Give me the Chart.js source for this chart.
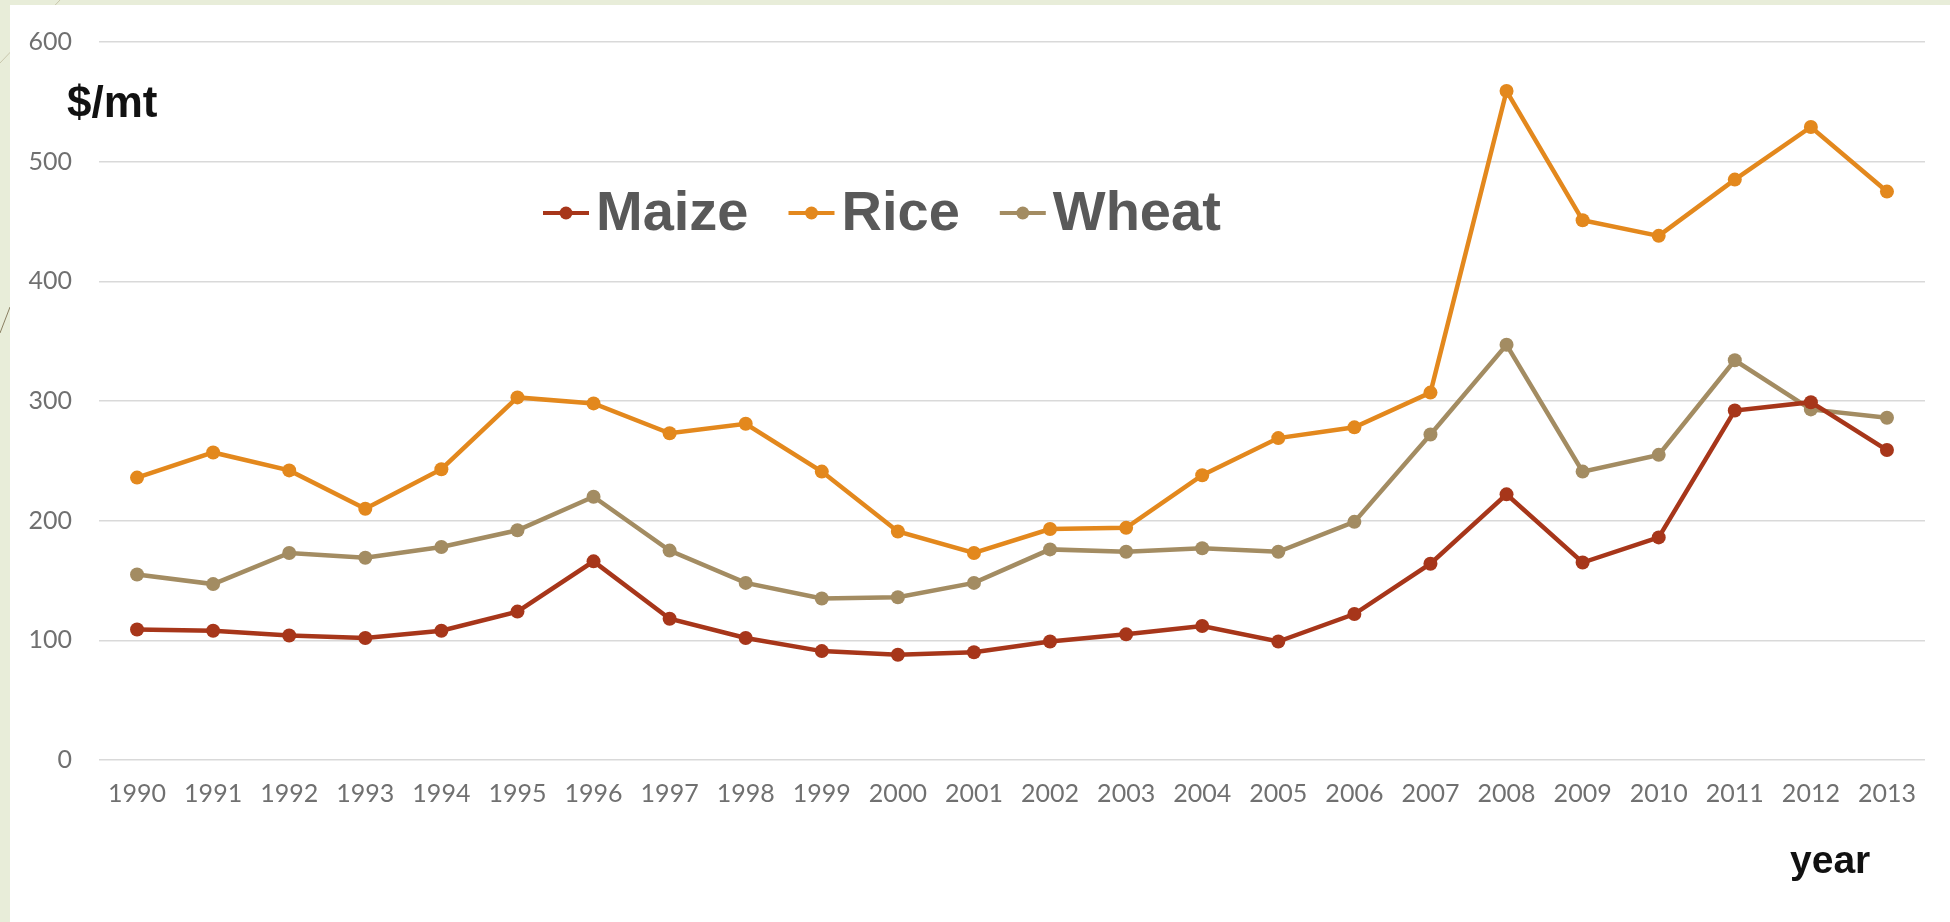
<!DOCTYPE html>
<html lang="en">
<head>
  <meta charset="UTF-8">
  <title>Cereal prices 1990-2013</title>
  <script src="https://cdn.jsdelivr.net/npm/chart.js"></script>
  <style>
    body {
      margin: 0;
      background: #e8edd9;
    }
    canvas {
      display: block;
    }
  </style>
</head>
<body>
  <canvas id="priceChart" width="1950" height="922"></canvas>

  <script>
    const years = ["1990", "1991", "1992", "1993", "1994", "1995", "1996", "1997", "1998", "1999", "2000", "2001",
                   "2002", "2003", "2004", "2005", "2006", "2007", "2008", "2009", "2010", "2011", "2012", "2013"];
    const maize = [109, 108, 104, 102, 108, 124, 166, 118, 102, 91, 88, 90, 99, 105, 112, 99, 122, 164, 222, 165, 186, 292, 299, 259];
    const rice = [236, 257, 242, 210, 243, 303, 298, 273, 281, 241, 191, 173, 193, 194, 238, 269, 278, 307, 559, 451, 438, 485, 529, 475];
    const wheat = [155, 147, 173, 169, 178, 192, 220, 175, 148, 135, 136, 148, 176, 174, 177, 174, 199, 272, 347, 241, 255, 334, 293, 286];
    const yTicks = [0, 100, 200, 300, 400, 500, 600];

    const tickFont = { family: "Lato, 'Liberation Sans', sans-serif", size: 25, weight: 400 };
    const boldFamily = "'Liberation Sans', Arial, sans-serif";

    function series(label, data, color) {
      return {
        label: label,
        data: data,
        borderColor: color,
        backgroundColor: color,
        borderWidth: 4.5,
        pointRadius: 7,
        pointHoverRadius: 7,
        pointBorderWidth: 0,
        tension: 0
      };
    }

    // slide background: pale green strip with white panel
    const slideBackground = {
      id: "slideBackground",
      beforeDraw(chart) {
        const ctx = chart.ctx;
        ctx.save();
        ctx.fillStyle = "#e8edd9";
        ctx.fillRect(0, 0, chart.width, chart.height);
        ctx.strokeStyle = "#c9c7ad";
        ctx.lineWidth = 1;
        ctx.beginPath();
        ctx.moveTo(60, 0);
        ctx.lineTo(0, 63);
        ctx.stroke();
        ctx.strokeStyle = "#8a7f62";
        ctx.beginPath();
        ctx.moveTo(10, 307);
        ctx.lineTo(0, 333);
        ctx.stroke();
        ctx.fillStyle = "#ffffff";
        ctx.fillRect(10, 5, chart.width - 10, chart.height - 5);
        ctx.restore();
      }
    };

    // big legend inside the plot and the two axis captions
    const captions = {
      id: "captions",
      afterDraw(chart) {
        const ctx = chart.ctx;
        ctx.save();
        ctx.fillStyle = "#111111";
        ctx.textBaseline = "alphabetic";
        ctx.font = "bold 44px " + boldFamily;
        ctx.fillText("$/mt", 67, 117);
        ctx.font = "bold 39px " + boldFamily;
        ctx.fillText("year", 1790, 873);

        let x = 543;
        const y = 213;
        ctx.font = "bold 56px " + boldFamily;
        chart.data.datasets.forEach(ds => {
          ctx.strokeStyle = ds.borderColor;
          ctx.fillStyle = ds.borderColor;
          ctx.lineWidth = 4;
          ctx.beginPath();
          ctx.moveTo(x, y);
          ctx.lineTo(x + 46, y);
          ctx.stroke();
          ctx.beginPath();
          ctx.arc(x + 23, y, 6.5, 0, Math.PI * 2);
          ctx.fill();
          ctx.fillStyle = "#595959";
          ctx.textBaseline = "middle";
          ctx.fillText(ds.label, x + 53, y + 2);
          x += 53 + ctx.measureText(ds.label).width + 40;
        });
        ctx.restore();
      }
    };

    const ctx = document.getElementById("priceChart").getContext("2d");
    new Chart(ctx, {
      type: "line",
      data: {
        labels: years,
        datasets: [
          series("Maize", maize, "#a7361a"),
          series("Rice", rice, "#e3881d"),
          series("Wheat", wheat, "#a38c62")
        ]
      },
      options: {
        responsive: false,
        animation: false,
        layout: { padding: { left: 0, right: 25, top: 36, bottom: 0 } },
        plugins: {
          legend: { display: false },
          tooltip: { enabled: false }
        },
        scales: {
          x: {
            offset: true,
            grid: { display: false },
            border: { display: false },
            ticks: {
              color: "#707070",
              font: tickFont,
              padding: 11,
              maxRotation: 0,
              autoSkip: false
            },
            afterFit(scale) { scale.height = 162; }
          },
          y: {
            min: 0,
            max: 600,
            afterBuildTicks(scale) { scale.ticks = yTicks.map(v => ({ value: v })); },
            grid: { color: "#d9d9d9", lineWidth: 1.5, drawTicks: false },
            border: { display: false },
            ticks: {
              color: "#707070",
              font: tickFont,
              padding: 27
            },
            afterFit(scale) { scale.width = 99; }
          }
        }
      },
      plugins: [slideBackground, captions]
    });
  </script>
</body>
</html>
